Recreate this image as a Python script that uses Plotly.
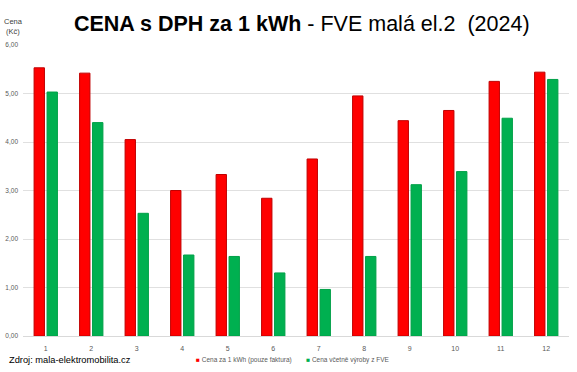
import plotly.graph_objects as go

months = ["1", "2", "3", "4", "5", "6", "7", "8", "9", "10", "11", "12"]
cena_faktura = [5.53, 5.42, 4.05, 3.00, 3.33, 2.84, 3.65, 4.95, 4.44, 4.65, 5.25, 5.44]
cena_fve = [5.03, 4.40, 2.53, 1.67, 1.64, 1.30, 0.96, 1.64, 3.12, 3.39, 4.49, 5.29]
y_ticks = [0, 1, 2, 3, 4, 5, 6]
series_names = ["Cena za 1 kWh (pouze faktura)", "Cena včetně výroby z FVE"]
series_colors = ["#FF0000", "#00B050"]
series_lines = ["#C00000", "#00A048"]

fig = go.Figure()
for vals, name, col, lc in zip([cena_faktura, cena_fve], series_names, series_colors, series_lines):
    fig.add_trace(go.Bar(
        x=months, y=vals, name=name, showlegend=False,
        marker=dict(color=col, line=dict(color=lc, width=1)),
    ))

legend_text = (
    f"<span style='color:{series_colors[0]}'>■</span> {series_names[0]}"
    f"        <span style='color:{series_colors[1]}'>■</span> {series_names[1]}"
)

fig.update_layout(
    width=577, height=372,
    margin=dict(l=23, r=8, t=45, b=36),
    paper_bgcolor="white", plot_bgcolor="white",
    separators=", ",
    barmode="group", bargap=0.43, bargroupgap=0.2,
    font=dict(family="Liberation Sans, Arial, sans-serif", color="#595959"),
    title=dict(
        text="<b>CENA s DPH za 1 kWh</b> - FVE malá el.2  (2024)",
        x=0.523, xanchor="center", y=0.936, yanchor="middle",
        font=dict(size=21.5, color="black", family="Liberation Sans, Arial, sans-serif"),
    ),
    showlegend=False,
    annotations=[
        dict(text="Cena<br>(Kč)", xref="paper", yref="paper", x=-0.017, y=1.025,
             xanchor="center", yanchor="bottom", showarrow=False, align="center",
             font=dict(size=7.5, color="#404040")),
        dict(text="Zdroj: mala-elektromobilita.cz", xref="paper", yref="paper",
             x=-0.0293, y=-0.081, xanchor="left", yanchor="middle", showarrow=False,
             font=dict(size=9.3, color="black")),
        dict(text=legend_text, xref="paper", yref="paper",
             x=0.494, y=-0.084, xanchor="center", yanchor="middle", showarrow=False,
             font=dict(size=6.5, color="#595959")),
    ],
)
fig.update_xaxes(
    type="category", showgrid=False, showline=True, linecolor="#D9D9D9", linewidth=1,
    ticks="", ticklabelstandoff=6, tickfont=dict(size=7, color="#595959"),
    automargin=False,
)
fig.update_yaxes(
    range=[0, 6], tickvals=y_ticks, tickformat=".2f",
    showgrid=True, gridcolor="#E0E0E0", gridwidth=1, zeroline=False,
    showline=False, ticks="", ticklabelstandoff=4, tickfont=dict(size=6.5, color="#595959"),
    automargin=False,
)

fig.write_html("out.html", config={"displayModeBar": False},
               post_script="document.body.style.margin='0';")
